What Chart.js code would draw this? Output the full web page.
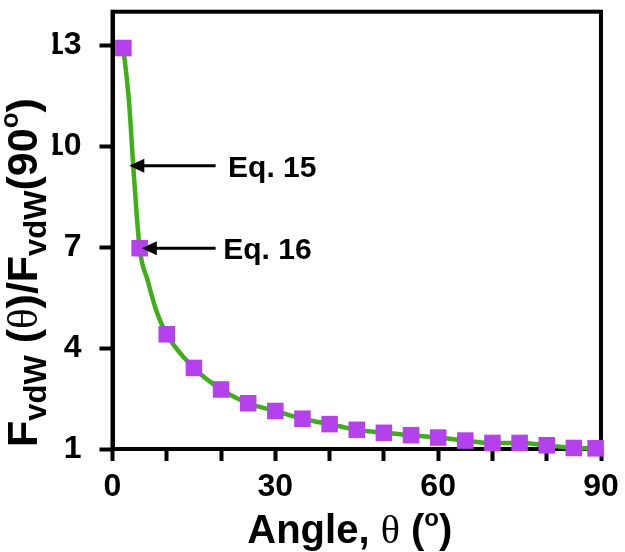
<!DOCTYPE html>
<html><head><meta charset="utf-8">
<script src="https://cdn.jsdelivr.net/npm/chart.js@4.4.0/dist/chart.umd.min.js"></script>
<style>html,body{margin:0;padding:0;background:#fff;}#wrap{width:625px;height:552px;}</style>
</head><body><div id="wrap"><canvas id="c" width="625" height="552"></canvas></div>
<script>
// Marker points (Eq. 16)
const angleDeg = [2,5,10,15,20,25,30,35,40,45,50,55,60,65,70,75,80,85,89];
const ratioEq16 = [12.92,6.97,4.41,3.41,2.77,2.36,2.13,1.9,1.74,1.57,1.48,1.41,1.34,1.25,1.18,1.18,1.11,1.03,1.02];
// Continuous curve (Eq. 15)
const angleCurve = [2,3,4,5,6.5,8,10,15,20,25,30,35,40,45,50,55,60,65,70,75,80,85,89];
const ratioEq15 = [12.92,11.4,9.0,6.97,6.0,5.15,4.41,3.41,2.77,2.36,2.13,1.9,1.74,1.57,1.48,1.41,1.34,1.25,1.18,1.18,1.11,1.03,1.02];
// Axis ticks
const xTickValues = [0,10,20,30,40,50,60,70,80,90];
const xTickLabels = ['0','','','30','','','60','','','90'];
const yTickValues = [1,4,7,10,13];
const yTickLabels = ['1','4','7','10','13'];

const SANS = '"Liberation Sans", Arial, sans-serif';
const SERIF = '"Liberation Serif", "Times New Roman", serif';

function drawRuns(ctx, runs, x, y){
  let cx = x;
  for (const r of runs){
    ctx.font = r.font;
    ctx.fillText(r.t, cx, y + (r.dy||0));
    cx += ctx.measureText(r.t).width;
  }
  return cx - x;
}
function measureRuns(ctx, runs){
  let w = 0;
  for (const r of runs){ ctx.font = r.font; w += ctx.measureText(r.t).width; }
  return w;
}

const decor = {
  id: 'decor',
  beforeDatasetsDraw(chart){
    const {ctx, chartArea: a} = chart;
    ctx.save();
    ctx.strokeStyle = '#000'; ctx.lineWidth = 4;
    ctx.strokeRect(a.left, a.top, a.right - a.left, a.bottom - a.top);
    ctx.restore();
  },
  afterDatasetsDraw(chart){
    const {ctx} = chart;
    const xs = chart.scales.x, ys = chart.scales.y;
    const notes = [
      {label: 'Eq. 15', tip: [3.1, 9.42], tail: 19.0, textX: 21.3},
      {label: 'Eq. 16', tip: [5.4, 6.97], tail: 19.0, textX: 20.4}
    ];
    ctx.save();
    ctx.fillStyle = '#000'; ctx.strokeStyle = '#000';
    for (const n of notes){
      const tx = xs.getPixelForValue(n.tip[0]);
      const ty = ys.getPixelForValue(n.tip[1]);
      const ex = xs.getPixelForValue(n.tail);
      ctx.lineWidth = 3;
      ctx.beginPath(); ctx.moveTo(ex, ty); ctx.lineTo(tx + 10, ty); ctx.stroke();
      ctx.beginPath(); ctx.moveTo(tx, ty); ctx.lineTo(tx + 15, ty - 7); ctx.lineTo(tx + 15, ty + 7); ctx.closePath(); ctx.fill();
      ctx.font = 'bold 30px ' + SANS;
      ctx.textBaseline = 'alphabetic'; ctx.textAlign = 'left';
      ctx.fillText(n.label, xs.getPixelForValue(n.textX), ty + 11);
    }
    ctx.restore();
  },
  afterDraw(chart){
    const {ctx, chartArea: a} = chart;
    ctx.save();
    ctx.fillStyle = '#000';
    ctx.textBaseline = 'alphabetic'; ctx.textAlign = 'left';
    // X title
    const xr = [
      {t: 'Angle, ', font: 'bold 40px ' + SANS},
      {t: '\u03B8', font: '40px ' + SERIF},
      {t: ' (', font: 'bold 40px ' + SANS},
      {t: 'o', font: 'bold 24px ' + SANS, dy: -17},
      {t: ')', font: 'bold 40px ' + SANS}
    ];
    const xw = measureRuns(ctx, xr);
    drawRuns(ctx, xr, (a.left + a.right) / 2 - 7 - xw / 2, 543);
    // Y title (rotated)
    const yr = [
      {t: 'F', font: 'bold 43px ' + SANS},
      {t: 'vdW', font: 'bold 31px ' + SANS, dy: 9},
      {t: ' (', font: 'bold 43px ' + SANS},
      {t: '\u03B8', font: '43px ' + SERIF},
      {t: ')/F', font: 'bold 43px ' + SANS},
      {t: 'vdW', font: 'bold 31px ' + SANS, dy: 9},
      {t: '(90', font: 'bold 43px ' + SANS},
      {t: 'o', font: 'bold 26px ' + SANS, dy: -19},
      {t: ')', font: 'bold 43px ' + SANS}
    ];
    ctx.translate(37, 447);
    ctx.rotate(-Math.PI / 2);
    drawRuns(ctx, yr, 0, 0);
    ctx.restore();
  }
};

new Chart(document.getElementById('c'), {
  type: 'scatter',
  data: {
    datasets: [
      {
        label: 'Eq. 16',
        data: angleDeg.map((x, i) => ({x, y: ratioEq16[i]})),
        pointStyle: 'rect', pointRadius: 11.7, pointHoverRadius: 11.7,
        backgroundColor: '#b540ee', borderColor: '#b540ee', borderWidth: 0,
        showLine: false, clip: false
      },
      {
        label: 'Eq. 15',
        data: angleCurve.map((x, i) => ({x, y: ratioEq15[i]})),
        showLine: true, pointRadius: 0, borderColor: '#3cb016', borderWidth: 4.5,
        cubicInterpolationMode: 'monotone', fill: false, clip: false
      }
    ]
  },
  options: {
    responsive: false, animation: false, devicePixelRatio: 1,
    layout: {padding: {left: 52.5, right: 24, top: 2, bottom: 42}},
    plugins: {legend: {display: false}, tooltip: {enabled: false}},
    scales: {
      x: {
        type: 'linear', min: 0, max: 90,
        afterBuildTicks: s => { s.ticks = xTickValues.map(v => ({value: v})); },
        afterFit: s => { s.height = 61; s.paddingLeft = 0; s.paddingRight = 0; },
        ticks: {
          autoSkip: false, maxRotation: 0, minRotation: 0, padding: 7, color: '#000',
          font: {family: SANS, size: 32, weight: 'bold'},
          callback: (v) => xTickLabels[xTickValues.indexOf(v)] ?? ''
        },
        grid: {drawOnChartArea: false, drawTicks: true, tickLength: 12, tickWidth: 4, tickColor: '#000'},
        border: {display: true, width: 4, color: '#000'},
        title: {display: false}
      },
      y: {
        type: 'linear', min: 1, max: 14,
        afterBuildTicks: s => { s.ticks = yTickValues.map(v => ({value: v})); },
        afterFit: s => { s.width = 60; s.paddingTop = 0; s.paddingBottom = 0; },
        ticks: {
          autoSkip: false, padding: 18, color: '#000',
          font: {family: SANS, size: 32, weight: 'bold'},
          callback: (v) => yTickLabels[yTickValues.indexOf(v)] ?? ''
        },
        grid: {drawOnChartArea: false, drawTicks: true, tickLength: 13, tickWidth: 4, tickColor: '#000'},
        border: {display: true, width: 4, color: '#000'},
        title: {display: false}
      }
    }
  },
  plugins: [decor]
});
</script></body></html>
